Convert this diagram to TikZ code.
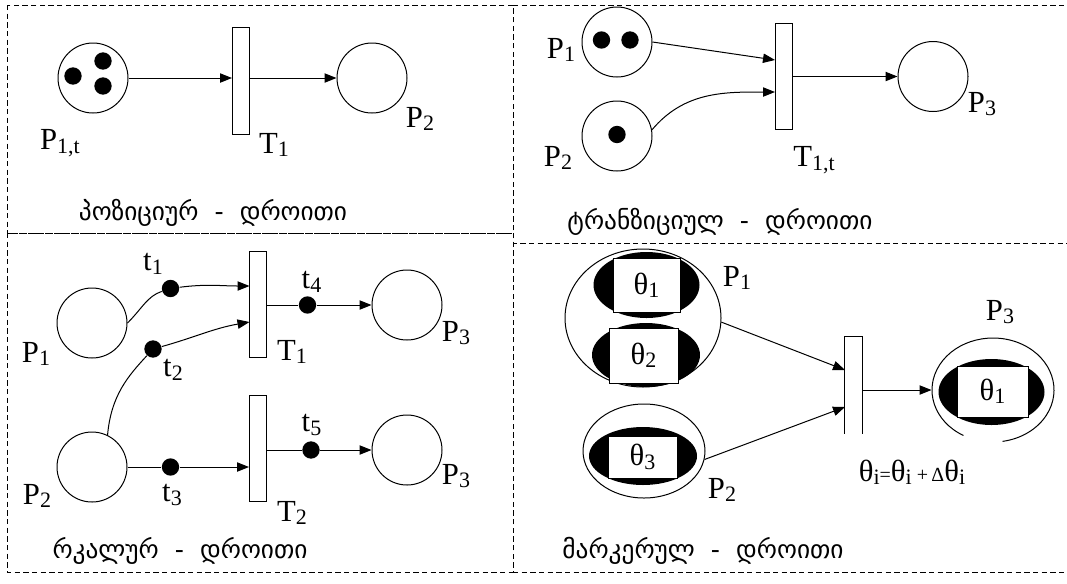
\documentclass[tikz,border=0pt]{standalone}
\usepackage{fontspec}
\setmainfont{Liberation Serif}
\newfontfamily\geofont{DejaVu Sans}
\usetikzlibrary{arrows.meta,shapes.geometric}

\newcommand\lab[2]{#1\raisebox{-2.5pt}{\fontsize{16.5}{16.5}\selectfont #2}}

\tikzset{every picture/.style={line width=0.75pt}}
\tikzset{
  place/.style={circle,draw,minimum size=52.5pt,inner sep=0pt},
  trans/.style={rectangle,draw,fill=white,minimum width=12.75pt,minimum height=80pt,inner sep=0pt},
  token/.style={circle,fill=black,minimum size=13pt,inner sep=0pt},
  blob/.style={ellipse,fill=black,inner sep=0pt},
  markbox/.style={rectangle,draw,fill=white,inner sep=0pt,font=\fontsize{23}{25}\selectfont},
  lbl/.style={font=\fontsize{23}{25}\selectfont,inner sep=0pt},
  geotext/.style={font=\geofont\fontsize{19}{21}\selectfont,inner sep=0pt},
  panel/.style={dash pattern=on 4pt off 2.5pt},
  flow/.style={-{Triangle[length=9pt,width=7pt]}},
}

\begin{document}
\begin{tikzpicture}[x=0.75pt,y=0.75pt,yscale=-1,xscale=1]
\useasboundingbox (0,0) rectangle (1067,583);

%Panels
\draw[panel] (7,5) rectangle (513,233);
\draw[panel] (513,5) -- (1067,5);
\draw[panel] (513,233) -- (513,243) -- (1067,243);
\draw[panel] (7,233) rectangle (513,572);
\draw[panel] (513,572) -- (1067,572);

%%% top left: position - time
\node[place] (p1t) at (93,78) {};
\node[token] (k11) at (73,76) {};
\node[token] (k12) at (103,61) {};
\node[token] (k13) at (103,86) {};
\node[trans] (tr1) at (241,81) {};
\node[place] (p2t) at (372,78) {};
\draw[flow] (p1t) -- (p1t -| tr1.west);
\draw[flow] (tr1.east |- p2t) -- (p2t);
% Text Node
\node[lbl] (lp1t) at (60,143) {\lab{P}{1,t}};
% Text Node
\node[lbl] (ltr1) at (274,145) {\lab{T}{1}};
% Text Node
\node[lbl] (lp2t) at (420,119) {\lab{P}{2}};
% Text Node
\node[geotext] (c1) at (213,213) {პოზიციურ\ \ -\ \ დროითი};

%%% top right: transition - time
\node[place] (p1b) at (617,42) {};
\node[token] (k21) at (601.5,40) {};
\node[token] (k22) at (630,40) {};
\node[place] (p2b) at (617,136) {};
\node[token] (k23) at (617,134.5) {};
\node[trans] (tr2) at (783.5,76.5) {};
\node[place] (p3b) at (933,76.5) {};
\coordinate (a1) at (775,60);
\coordinate (a2) at (775,92);
\draw[flow] (p1b.east) -- (a1);
\draw[flow] (p2b.10) to[out=-50,in=180] (a2);
\draw[flow] (tr2) -- (p3b);
% Text Node
\node[lbl] (lp1b) at (561,50) {\lab{P}{1}};
% Text Node
\node[lbl] (lp2b) at (558,158) {\lab{P}{2}};
% Text Node
\node[lbl] (ltr2) at (814,160) {\lab{T}{1,t}};
% Text Node
\node[lbl] (lp3b) at (982,104) {\lab{P}{3}};
% Text Node
\node[geotext] (c2) at (720,222) {ტრანზიციულ\ \ -\ \ დროითი};

%%% bottom left: arc - time
\node[place] (p1c) at (92,323) {};
\node[place] (p2c) at (92,467) {};
\node[trans] (tt1) at (258,304.5) {};
\node[trans] (tt2) at (258,448.5) {};
\node[place] (p3c) at (407,305) {};
\node[place] (p3d) at (407,450) {};
\node[token] (k1) at (170.5,288.5) {};
\node[token] (k2) at (153,349) {};
\node[token] (k3) at (170.5,467) {};
\node[token] (k4) at (307.5,305) {};
\node[token] (k5) at (311,450) {};
\coordinate (a3) at (249.5,286);
\coordinate (a4) at (249.5,322);
\draw (p1c.east) to[out=-45,in=140] (k1);
\draw[flow] (k1) to[out=-15,in=180] (a3);
\draw (p2c.64) to[out=-85,in=120] (k2);
\draw[flow] (k2) to[out=-25,in=170] (a4);
\draw (p2c) -- (k3);
\draw[flow] (k3) -- (k3 -| tt2.west);
\draw (tt1.east |- k4) -- (k4);
\draw[flow] (k4) -- (p3c);
\draw (tt2.east |- k5) -- (k5);
\draw[flow] (k5) -- (p3d);
% Text Node
\node[lbl] (lk1) at (153,264) {\lab{t}{1}};
% Text Node
\node[lbl] (lk2) at (173,370) {\lab{t}{2}};
% Text Node
\node[lbl] (lk3) at (172,495) {\lab{t}{3}};
% Text Node
\node[lbl] (lk4) at (311.5,282) {\lab{t}{4}};
% Text Node
\node[lbl] (lk5) at (311.5,425) {\lab{t}{5}};
% Text Node
\node[lbl] (lp1c) at (36,354) {\lab{P}{1}};
% Text Node
\node[lbl] (lp2c) at (37,496) {\lab{P}{2}};
% Text Node
\node[lbl] (ltt1) at (292,352) {\lab{T}{1}};
% Text Node
\node[lbl] (ltt2) at (292,513) {\lab{T}{2}};
% Text Node
\node[lbl] (lp3c) at (456,333) {\lab{P}{3}};
% Text Node
\node[lbl] (lp3d) at (456,476) {\lab{P}{3}};
% Text Node
\node[geotext] (c3) at (180,551) {რკალურ\ \ -\ \ დროითი};

%%% bottom right: marker - time
\node[ellipse,draw,minimum width=117pt,minimum height=103.5pt,inner sep=0pt] (q1) at (643,318) {};
\node[blob,minimum width=79.5pt,minimum height=49.5pt] (e1) at (646.5,285) {};
\node[blob,minimum width=81pt,minimum height=48pt] (e2) at (646,355) {};
\node[markbox,minimum width=50.25pt,minimum height=40.5pt] (b1) at (646.5,285) {\lab{θ}{1}};
\node[markbox,minimum width=51.75pt,minimum height=41.25pt] (b2) at (643.5,355.5) {\lab{θ}{2}};
\node[ellipse,draw,minimum width=91.5pt,minimum height=70.5pt,inner sep=0pt] (q2) at (644,451) {};
\node[blob,minimum width=81pt,minimum height=43.5pt] (e3) at (643,456) {};
\node[markbox,minimum width=51.75pt,minimum height=31.5pt] (b3) at (642.5,457) {\lab{θ}{3}};
\node[minimum width=12.75pt,minimum height=72pt,inner sep=0pt] (tr3) at (853.5,385) {};
\draw (tr3.south west) -- (tr3.north west) -- (tr3.north east) -- (tr3.south east);
\node[ellipse,minimum width=91.5pt,minimum height=78pt,inner sep=0pt] (q3) at (993,390) {};
\draw (993,390) ++(119:61 and 52) arc[start angle=119,end angle=441,x radius=61,y radius=52];
\node[blob,minimum width=79.5pt,minimum height=49.5pt] (e4) at (991.5,392) {};
\node[markbox,minimum width=53.25pt,minimum height=38.25pt] (b4) at (992.5,391.5) {\lab{θ}{1}};
\coordinate (a5) at (845,370);
\coordinate (a6) at (845,407);
\draw[flow] (q1.-3) -- (a5);
\draw[flow] (q2.-8) -- (a6);
\draw[flow] (tr3.east |- q3) -- (q3);
% Text Node
\node[lbl] (lq1) at (737,278) {\lab{P}{1}};
% Text Node
\node[lbl] (lq2) at (722,490) {\lab{P}{2}};
% Text Node
\node[lbl] (lq3) at (1000,312) {\lab{P}{3}};
% Text Node
\node[lbl] (form) at (912,472) {\lab{θ}{i}{\fontsize{15}{15}\selectfont=}\lab{θ}{i}\,{\fontsize{15}{15}\selectfont+\,Δ}\lab{θ}{i}};
% Text Node
\node[geotext] (c4) at (703,551) {მარკერულ\ \ -\ \ დროითი};

\end{tikzpicture}
\end{document}
